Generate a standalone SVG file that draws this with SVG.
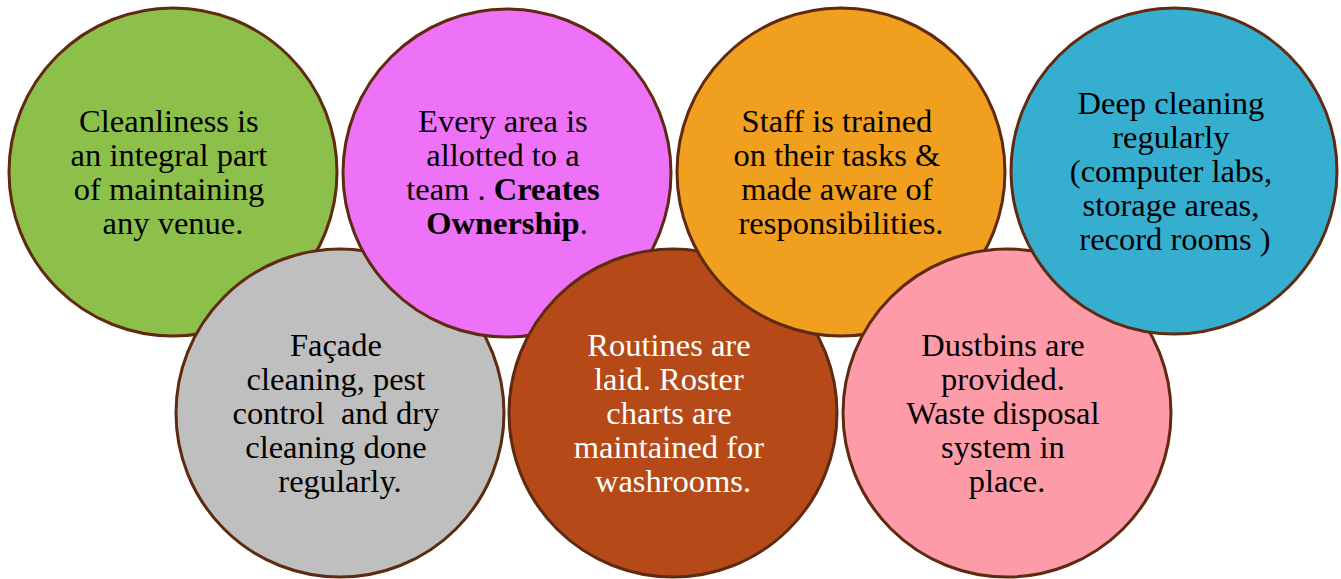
<svg xmlns="http://www.w3.org/2000/svg" width="1341" height="579" viewBox="0 0 1341 579">
  <style>
    .disc { stroke: #5f2a10; stroke-width: 3; }
    .lbl { font-family: "Liberation Serif", "Times New Roman", serif; font-size: 32.5px; fill: #000; text-anchor: middle; }
    .lbl-w { fill: #fff; }
    .b { font-weight: bold; }
  </style>
  <rect width="1341" height="579" fill="#fff"/>

  <!-- stacking order: each later disc overlaps the previous one -->
  <g id="node-cleanliness">
    <circle class="disc" cx="173" cy="172" r="164" fill="#8cc04a"/>
    <text class="lbl">
      <tspan x="173" y="132">Cleanliness is</tspan>
      <tspan x="173" y="166">an integral part</tspan>
      <tspan x="173" y="200">of maintaining</tspan>
      <tspan x="173" y="234">any venue.</tspan>
    </text>
  </g>

  <g id="node-facade">
    <circle class="disc" cx="340" cy="413" r="164" fill="#bfbfbf"/>
    <text class="lbl">
      <tspan x="340" y="356">Façade</tspan>
      <tspan x="340" y="390">cleaning, pest</tspan>
      <tspan x="340" y="424" xml:space="preserve">control  and dry</tspan>
      <tspan x="340" y="458">cleaning done</tspan>
      <tspan x="340" y="492">regularly.</tspan>
    </text>
  </g>

  <g id="node-ownership">
    <circle class="disc" cx="507" cy="173" r="164" fill="#ed72f8"/>
    <text class="lbl">
      <tspan x="507" y="132">Every area is</tspan>
      <tspan x="507" y="166">allotted to a</tspan>
      <tspan x="507" y="200">team . <tspan class="b">Creates</tspan></tspan>
      <tspan x="507" y="234"><tspan class="b">Ownership</tspan>.</tspan>
    </text>
  </g>

  <g id="node-routines">
    <circle class="disc" cx="673" cy="413" r="164" fill="#b54a18"/>
    <text class="lbl lbl-w">
      <tspan x="673" y="356">Routines are</tspan>
      <tspan x="673" y="390">laid. Roster</tspan>
      <tspan x="673" y="424">charts are</tspan>
      <tspan x="673" y="458">maintained for</tspan>
      <tspan x="673" y="492">washrooms.</tspan>
    </text>
  </g>

  <g id="node-training">
    <circle class="disc" cx="841" cy="172" r="164" fill="#f09f1f"/>
    <text class="lbl">
      <tspan x="841" y="132">Staff is trained</tspan>
      <tspan x="841" y="166">on their tasks &amp;</tspan>
      <tspan x="841" y="200">made aware of</tspan>
      <tspan x="841" y="234">responsibilities.</tspan>
    </text>
  </g>

  <g id="node-waste">
    <circle class="disc" cx="1007" cy="413" r="164" fill="#fe9ba9"/>
    <text class="lbl">
      <tspan x="1007" y="356">Dustbins are</tspan>
      <tspan x="1007" y="390">provided.</tspan>
      <tspan x="1007" y="424">Waste disposal</tspan>
      <tspan x="1007" y="458">system in</tspan>
      <tspan x="1007" y="492">place.</tspan>
    </text>
  </g>

  <g id="node-deep-cleaning">
    <circle class="disc" cx="1174" cy="171" r="163" fill="#36aecf"/>
    <text class="lbl">
      <tspan x="1175" y="114">Deep cleaning</tspan>
      <tspan x="1175" y="148">regularly</tspan>
      <tspan x="1175" y="182">(computer labs,</tspan>
      <tspan x="1175" y="216">storage areas,</tspan>
      <tspan x="1175" y="250">record rooms )</tspan>
    </text>
  </g>

  <g id="connectors"/>
</svg>
